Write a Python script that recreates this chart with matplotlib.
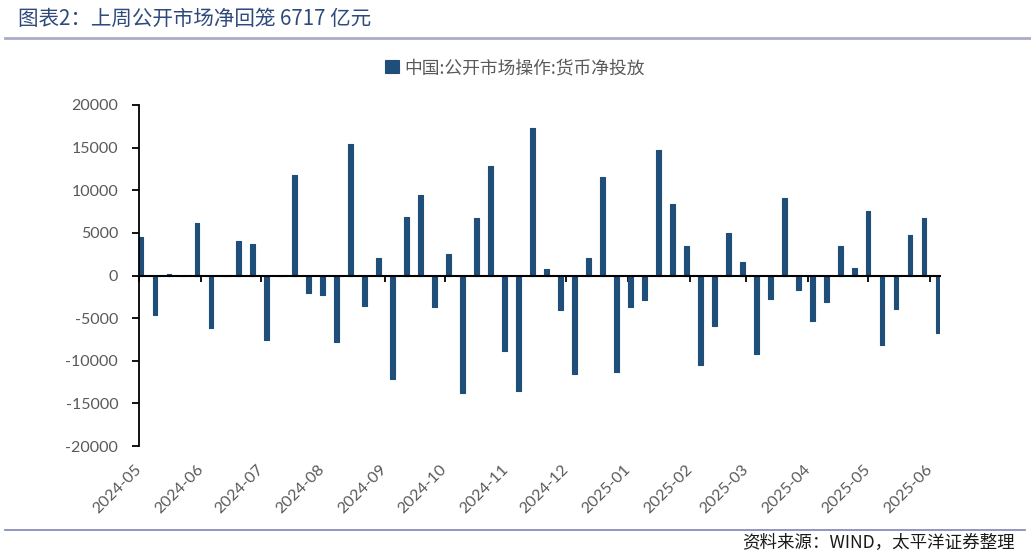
import pandas as pd
import matplotlib
matplotlib.use('Agg')
import matplotlib.pyplot as plt
import matplotlib.dates as mdates
from matplotlib.lines import Line2D

plt.rcParams['font.family'] = ['Lato', 'Noto Sans CJK SC', 'DejaVu Sans']
plt.rcParams['axes.unicode_minus'] = False

# weekly net injection (亿元)
weeks = pd.date_range('2024-05-02', periods=58, freq='7D')
net_injection = [
    4500, -4600, 200, -100, 6100, -6200, -100, 4000, 3700, -7600,
    0, 11800, -2100, -2300, -7800, 15400, -3600, 2100, -12100, 6900,
    9400, -3700, 2500, -13800, 6700, 12800, -8800, -13500, 17300, 800,
    -4000, -11600, 2000, 11500, -11300, -3700, -2900, 14700, 8400, 3500,
    -10500, -5900, 5000, 1600, -9200, -2800, 9100, -1700, -5300, -3100,
    3500, 900, 7600, -8100, -3900, 4800, 6800, -6717,
]
months = pd.date_range('2024-05-01', '2025-06-01', freq='MS')
month_labels = [d.strftime('%Y-%m') for d in months]
yticks = list(range(-20000, 20001, 5000))

title = '图表2：上周公开市场净回笼 6717 亿元'
series_name = '中国:公开市场操作:货币净投放'
source = '资料来源：WIND，太平洋证券整理'

bar_color = '#1F4E79'
grey = '#595959'
cjk = ['Noto Sans CJK SC', 'DejaVu Sans']

W, H = 1031, 557
fig = plt.figure(figsize=(W / 100, H / 100), dpi=100)
ax = fig.add_axes([139 / W, 1 - 446 / H, (940 - 139) / W, (446 - 105) / H])

x = mdates.date2num(weeks)
bars = ax.bar(x, net_injection, width=2.4, color=bar_color, edgecolor=bar_color,
              linewidth=0.8, joinstyle='round', label=series_name, zorder=2)

ax.set_xlim(mdates.date2num(pd.Timestamp('2024-05-01')),
            mdates.date2num(pd.Timestamp('2025-06-06')))
ax.set_ylim(-20000, 20000)

for s in ['top', 'right']:
    ax.spines[s].set_visible(False)
ax.spines['bottom'].set_position(('data', 0))
ax.spines['bottom'].set_linewidth(1.5)
ax.spines['bottom'].set_zorder(3)
ax.spines['left'].set_linewidth(1.3)
ax.spines['left'].set_zorder(3)

ax.set_yticks(yticks)
ax.set_yticklabels([str(v) for v in yticks])
ax.tick_params(axis='y', direction='out', length=5, width=1.3, pad=10,
               labelsize=11.5, labelcolor=grey)

ax.set_xticks(mdates.date2num(months))
ax.set_xticklabels([''] * len(months))
ax.tick_params(axis='x', direction='out', length=4, width=1.3)

sec = ax.secondary_xaxis('bottom')
sec.set_xticks(mdates.date2num(months))
sec.set_xticklabels(month_labels, rotation=45, ha='right', va='center',
                    rotation_mode='anchor')
sec.tick_params(length=0, pad=15, labelsize=11.5, labelcolor=grey)
sec.spines['bottom'].set_visible(False)

fig.text(18 / W, 1 - 19 / H, title, fontsize=14.8, color='#2E4A7C',
         ha='left', va='center', family=cjk)
fig.add_artist(Line2D([5 / W, 1], [1 - 38 / H] * 2, transform=fig.transFigure,
                      color='#A9ABCB', lw=2))
fig.add_artist(Line2D([5 / W, 1025 / W], [1 - 530 / H] * 2, transform=fig.transFigure,
                      color='#7F83B8', lw=1.2))

fig.legend(handles=[bars], labels=[series_name], loc='center',
           bbox_to_anchor=(515 / W, 1 - 68 / H), frameon=False,
           prop={'family': cjk, 'size': 12.8}, labelcolor=grey,
           handlelength=0.75, handleheight=0.75, handletextpad=0.3)

fig.text(1015 / W, 1 - 543 / H, source, fontsize=12.6, style='italic',
         color='#1A1A1A', ha='right', va='center', family=cjk)

fig.savefig('out.png', dpi=100)
